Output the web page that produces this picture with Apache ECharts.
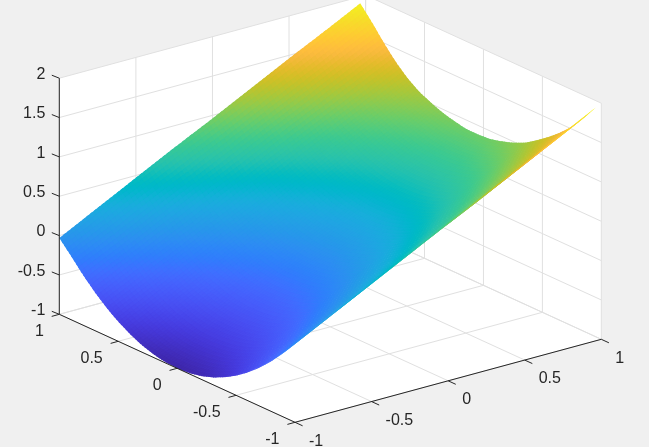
<!DOCTYPE html>
<html>
<head>
<meta charset="utf-8">
<style>html,body{margin:0;padding:0;background:#f0f0f0}#c{width:649px;height:447px}</style>
<script src="https://cdn.jsdelivr.net/npm/echarts@6/dist/echarts.min.js"></script>
</head>
<body>
<div id="c"></div>
<script>
// Tick values and labels
const xTicks = [-1, -0.5, 0, 0.5, 1];
const yTicks = [1, 0.5, 0, -0.5, -1];
const zTicks = [2, 1.5, 1, 0.5, 0, -0.5, -1];
// Surface sample positions
const xs = [-1, -0.75, -0.5, -0.25, 0, 0.25, 0.5, 0.75, 0.965];
const ys = [1, 0.9, 0.8, 0.7, 0.6, 0.5, 0.4, 0.3, 0.2, 0.1, 0, -0.1, -0.2, -0.3, -0.4, -0.5, -0.6, -0.7, -0.8, -0.9, -1];
// Surface heights, one row per ys value, one column per xs value
const zRows = [
  [-0.03, 0.22, 0.47, 0.72, 0.96, 1.21, 1.46, 1.70, 1.915],
  [-0.19, 0.05, 0.30, 0.54, 0.78, 1.03, 1.28, 1.53, 1.74],
  [-0.36, -0.12, 0.13, 0.37, 0.61, 0.86, 1.10, 1.35, 1.55],
  [-0.51, -0.27, -0.03, 0.21, 0.45, 0.69, 0.93, 1.17, 1.38],
  [-0.64, -0.40, -0.16, 0.08, 0.31, 0.55, 0.79, 1.03, 1.24],
  [-0.75, -0.51, -0.27, -0.03, 0.21, 0.46, 0.70, 0.94, 1.135],
  [-0.84, -0.60, -0.36, -0.11, 0.13, 0.37, 0.61, 0.86, 1.065],
  [-0.91, -0.67, -0.42, -0.18, 0.06, 0.31, 0.55, 0.80, 1.005],
  [-0.96, -0.72, -0.47, -0.23, 0.02, 0.26, 0.51, 0.75, 0.965],
  [-0.99, -0.75, -0.50, -0.26, -0.01, 0.23, 0.48, 0.72, 0.935],
  [-1.00, -0.75, -0.51, -0.26, -0.02, 0.23, 0.48, 0.72, 0.935],
  [-0.99, -0.74, -0.50, -0.25, -0.01, 0.24, 0.49, 0.73, 0.945],
  [-0.96, -0.71, -0.47, -0.22, 0.03, 0.28, 0.52, 0.77, 0.985],
  [-0.91, -0.66, -0.42, -0.17, 0.08, 0.33, 0.57, 0.82, 1.035],
  [-0.84, -0.59, -0.35, -0.10, 0.15, 0.40, 0.64, 0.89, 1.105],
  [-0.75, -0.50, -0.25, 0.00, 0.25, 0.49, 0.74, 0.99, 1.205],
  [-0.64, -0.39, -0.14, 0.11, 0.35, 0.60, 0.85, 1.10, 1.315],
  [-0.51, -0.26, -0.01, 0.24, 0.48, 0.73, 0.98, 1.23, 1.44],
  [-0.36, -0.11, 0.14, 0.38, 0.63, 0.88, 1.12, 1.37, 1.585],
  [-0.19, 0.06, 0.31, 0.56, 0.81, 1.05, 1.30, 1.55, 1.765],
  [0.00, 0.25, 0.50, 0.75, 1.00, 1.25, 1.50, 1.75, 1.965]
];
// Colour map (low to high)
const parula = [
[0.2422,0.1504,0.6603],[0.2504,0.1650,0.7076],[0.2578,0.1818,0.7511],[0.2647,0.1978,0.7952],
[0.2706,0.2147,0.8364],[0.2751,0.2342,0.8710],[0.2783,0.2559,0.8991],[0.2803,0.2782,0.9221],
[0.2813,0.3006,0.9414],[0.2810,0.3228,0.9579],[0.2795,0.3447,0.9717],[0.2760,0.3667,0.9829],
[0.2699,0.3892,0.9906],[0.2602,0.4123,0.9952],[0.2440,0.4358,0.9988],[0.2206,0.4603,0.9973],
[0.1963,0.4847,0.9892],[0.1834,0.5074,0.9798],[0.1786,0.5289,0.9682],[0.1764,0.5499,0.9520],
[0.1687,0.5703,0.9359],[0.1540,0.5902,0.9218],[0.1460,0.6091,0.9079],[0.1380,0.6276,0.8973],
[0.1248,0.6459,0.8883],[0.1113,0.6635,0.8763],[0.0952,0.6798,0.8598],[0.0689,0.6948,0.8394],
[0.0297,0.7082,0.8163],[0.0036,0.7203,0.7917],[0.0067,0.7312,0.7660],[0.0433,0.7411,0.7394],
[0.0964,0.7500,0.7120],[0.1408,0.7584,0.6842],[0.1717,0.7670,0.6554],[0.1938,0.7758,0.6251],
[0.2161,0.7843,0.5923],[0.2470,0.7918,0.5567],[0.2906,0.7973,0.5188],[0.3406,0.8008,0.4789],
[0.3909,0.8029,0.4354],[0.4456,0.8024,0.3909],[0.5044,0.7993,0.3480],[0.5616,0.7942,0.3045],
[0.6174,0.7876,0.2612],[0.6720,0.7793,0.2227],[0.7242,0.7698,0.1910],[0.7738,0.7598,0.1646],
[0.8203,0.7498,0.1535],[0.8634,0.7406,0.1596],[0.9035,0.7330,0.1774],[0.9393,0.7288,0.2100],
[0.9728,0.7298,0.2394],[0.9956,0.7434,0.2371],[0.9970,0.7659,0.2199],[0.9952,0.7893,0.2028],
[0.9892,0.8136,0.1885],[0.9786,0.8386,0.1766],[0.9676,0.8639,0.1643],[0.9610,0.8890,0.1537],
[0.9597,0.9135,0.1423],[0.9628,0.9373,0.1265],[0.9691,0.9606,0.1064],[0.9769,0.9839,0.0805]
];

// View projection of the 3D box onto the flat drawing plane
const view = {ox: 330.3, oy: 326.8, xv: [153.15, -41.5], yv: [-117.85, -54], zv: -78.7, zBase: -1};
function project(x, y, z) {
  return [
    view.ox + x * view.xv[0] + y * view.yv[0],
    view.oy + x * view.xv[1] + y * view.yv[1] + (z - view.zBase) * view.zv
  ];
}
function colorOf(z) {
  const t = Math.max(0, Math.min(1, (z + 1) / 3)) * (parula.length - 1);
  const i = Math.min(parula.length - 2, Math.floor(t));
  const f = t - i;
  const c = parula[i].map((v, k) => Math.round((v + (parula[i + 1][k] - v) * f) * 255));
  return 'rgb(' + c.join(',') + ')';
}
const INK = '#262626', GRID = '#e0e0e0', FONT = '"Liberation Sans", Arial, sans-serif', FS = 16;
const xMin = -1, xMax = 1, yMin = -1, yMax = 1, zMin = -1, zMax = 2;

function seg(api, a, b, color, w) {
  const p = api.coord(a), q = api.coord(b);
  return {type: 'line', shape: {x1: p[0], y1: p[1], x2: q[0], y2: q[1]}, style: {stroke: color, lineWidth: w, fill: null}, silent: true};
}
function label(api, p, text, align) {
  const c = api.coord(p);
  return {type: 'text', style: {text: text, x: c[0], y: c[1], align: align, verticalAlign: 'middle', fill: INK, fontFamily: FONT, fontSize: FS}, silent: true};
}
function renderWalls(params, api) {
  const hull = [[xMin,yMax,zMin],[xMin,yMax,zMax],[xMax,yMax,zMax],[xMax,yMin,zMax],[xMax,yMin,zMin],[xMin,yMin,zMin]]
    .map(p => api.coord(project(p[0], p[1], p[2])));
  const ch = [{type: 'polygon', shape: {points: hull}, style: {fill: '#ffffff'}, silent: true}];
  const add = (a, b) => ch.push(seg(api, project(a[0],a[1],a[2]), project(b[0],b[1],b[2]), GRID, 1));
  xTicks.forEach(x => { add([x,yMin,zMin],[x,yMax,zMin]); add([x,yMax,zMin],[x,yMax,zMax]); });
  yTicks.forEach(y => { add([xMin,y,zMin],[xMax,y,zMin]); add([xMax,y,zMin],[xMax,y,zMax]); });
  zTicks.forEach(z => { add([xMin,yMax,z],[xMax,yMax,z]); add([xMax,yMax,z],[xMax,yMin,z]); });
  return {type: 'group', children: ch};
}
const SUBX = 10, SUBY = 5;
function renderCell(params, api) {
  const i = api.value(0), j = api.value(1);
  const vert = (u, v) => {
    // u and v may run past 1 so a patch tucks under the next one; step into the next cell there
    let ci = i, cj = j;
    if (u > 1) { ci = i + 1; u -= 1; }
    if (v > 1) { cj = j + 1; v -= 1; }
    const x = xs[ci] + (xs[ci+1] - xs[ci]) * u, y = ys[cj] + (ys[cj+1] - ys[cj]) * v;
    const a = zRows[cj][ci], b = zRows[cj][ci+1], c = zRows[cj+1][ci], d = zRows[cj+1][ci+1];
    const z = (a*(1-u)+b*u)*(1-v) + (c*(1-u)+d*u)*v;
    return {p: api.coord(project(x, y, z)), z: z};
  };
  const lastI = i === xs.length - 2, lastJ = j === ys.length - 2;
  const ch = [];
  for (let n = 0; n < SUBY; n++) {
    for (let m = 0; m < SUBX; m++) {
      const mid = vert((m+0.5)/SUBX, (n+0.5)/SUBY);
      const uEnd = (m === SUBX - 1 && lastI) ? 1 : (m + 1.6) / SUBX;
      const vEnd = (n === SUBY - 1 && lastJ) ? 1 : (n + 1.6) / SUBY;
      const pts = [vert(m/SUBX, n/SUBY).p, vert(uEnd, n/SUBY).p, vert(uEnd, vEnd).p, vert(m/SUBX, vEnd).p];
      ch.push({type: 'polygon', shape: {points: pts}, style: {fill: colorOf(mid.z)}, silent: true});
    }
  }
  return {type: 'group', children: ch};
}
function renderAxes(params, api) {
  const ch = [];
  const P = project;
  // axis lines
  ch.push(seg(api, P(xMin,yMax,zMin), P(xMin,yMax,zMax), INK, 1));
  ch.push(seg(api, P(xMin,yMax,zMin), P(xMin,yMin,zMin), INK, 1));
  ch.push(seg(api, P(xMin,yMin,zMin), P(xMax,yMin,zMin), INK, 1));
  // z ticks and labels
  zTicks.forEach(z => {
    const c = P(xMin, yMax, z);
    ch.push(seg(api, c, [c[0] - 7.5, c[1] - 3], INK, 1));
    ch.push(label(api, [c[0] - 14, c[1] - 3.8], String(z), 'right'));
  });
  // y ticks and labels
  yTicks.forEach(y => {
    const c = P(xMin, y, zMin);
    ch.push(seg(api, c, [c[0] - 7.6, c[1] + 2.1], INK, 1));
    ch.push(label(api, [c[0] - 15.5, c[1] + 17], String(y), 'right'));
  });
  // x ticks and labels
  xTicks.forEach(x => {
    const c = P(x, yMin, zMin);
    ch.push(seg(api, c, [c[0] + 7.6, c[1] + 3.5], INK, 1));
    ch.push(label(api, [c[0] + 14, c[1] + 19], String(x), 'left'));
  });
  return {type: 'group', children: ch};
}
const cells = [];
for (let j = 0; j < ys.length - 1; j++) for (let i = 0; i < xs.length - 1; i++) cells.push([i, j]);

const chart = echarts.init(document.getElementById('c'), null, {renderer: 'canvas'});
chart.setOption({
  animation: false,
  backgroundColor: '#f0f0f0',
  grid: {left: 0, right: 0, top: 0, bottom: 0},
  xAxis: {type: 'value', min: 0, max: 649, show: false},
  yAxis: {type: 'value', min: 0, max: 447, inverse: true, show: false},
  series: [
    {type: 'custom', coordinateSystem: 'cartesian2d', clip: false, z: 1, silent: true, data: [[0, 0]], renderItem: renderWalls},
    {type: 'custom', coordinateSystem: 'cartesian2d', clip: false, z: 2, silent: true, progressive: 0, data: cells, renderItem: renderCell},
    {type: 'custom', coordinateSystem: 'cartesian2d', clip: false, z: 3, silent: true, data: [[0, 0]], renderItem: renderAxes}
  ]
});
</script>
</body>
</html>
